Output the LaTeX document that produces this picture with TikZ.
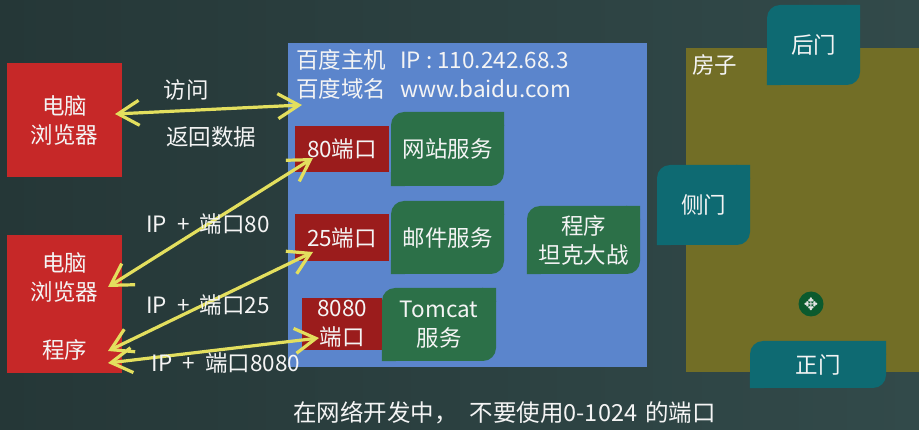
\documentclass[tikz,border=0pt]{standalone}
\usepackage{fontspec}
\setmainfont{Noto Sans CJK SC}
\newfontfamily\symbfont{DejaVu Sans}
\usetikzlibrary{arrows.meta}

\definecolor{bgdark}{HTML}{253737}
\definecolor{bglight}{HTML}{324A4A}
\definecolor{pcred}{HTML}{C62828}
\definecolor{hostblue}{HTML}{5B85CC}
\definecolor{portred}{HTML}{9B1C1C}
\definecolor{svcgreen}{HTML}{2C7048}
\definecolor{houseolive}{HTML}{726E26}
\definecolor{doorteal}{HTML}{0E6A72}
\definecolor{knobgreen}{HTML}{0B5A2E}
\definecolor{linkyellow}{HTML}{E3DF5E}
\definecolor{txtwhite}{HTML}{F4F4F4}

\tikzset{
	txt/.style={text=txtwhite, font=\fontsize{22.5}{29}\selectfont, inner sep=0pt, align=center},
	pcbox/.style={txt, fill=pcred, minimum width=115pt},
	portbox/.style={txt, fill=portred, minimum width=94pt},
	svcbox/.style={txt, fill=svcgreen, rounded corners=13pt, minimum width=113pt},
	doorbox/.style={txt, fill=doorteal, rounded corners=13pt, minimum width=93pt, minimum height=80pt},
	link/.style={draw=linkyellow, line width=3.2pt, {Straight Barb[length=21pt,width=25pt]}-{Straight Barb[length=21pt,width=25pt]}}
}

\begin{document}
\begin{tikzpicture}[x=1pt,y=-1pt]

		% Background
		\fill[left color=bgdark, right color=bglight] (0,0) rectangle (919,430);
		\useasboundingbox (0,0) rectangle (919,430);

		% Computers
		\node[pcbox, minimum height=114pt] (pc1) at (64.5,120) {电脑\\浏览器};
		\node[pcbox, minimum height=138pt] (pc2) at (64.5,304) {};
		\node[txt] (pc2name) at (64.5,277) {电脑\\浏览器};
		\node[txt] (pc2prog) at (64.5,350) {程序};

		% Baidu host
		\node[fill=hostblue, minimum width=359pt, minimum height=324pt] (host) at (467.5,205) {};
		\node[txt, align=left, anchor=west] (hostinfo) at (296,74)
			{百度主机\hspace{14pt}IP : 110.242.68.3\\百度域名\hspace{14pt}www.baidu.com};

		% Ports and services
		\node[portbox, minimum height=46pt] (port80) at (342,149) {80端口};
		\node[svcbox, minimum height=74pt] (web) at (447.5,149) {网站服务};
		\node[portbox, minimum height=47pt] (port25) at (342,237.5) {25端口};
		\node[svcbox, minimum height=73pt] (mail) at (447.5,237.5) {邮件服务};
		\node[portbox, minimum width=80pt, minimum height=52pt] (port8080) at (342,324) {8080\\端口};
		\node[svcbox, minimum width=114pt, minimum height=73pt] (tomcat) at (439,324.5) {Tomcat\\服务};
		\node[svcbox, minimum height=68pt] (tank) at (583.5,240) {程序\\坦克大战};

		% House and doors
		\node[fill=houseolive, minimum width=233pt, minimum height=324pt] (house) at (802.5,210) {};
		\node[txt, anchor=west] (houselabel) at (692,65) {房子};
		\node[doorbox] (backdoor) at (813.5,45) {后门};
		\node[doorbox] (sidedoor) at (703.5,205) {侧门};
		\node[doorbox, minimum width=136pt, minimum height=47pt] (frontdoor) at (818,364.5) {正门};
		\node[circle, fill=knobgreen, minimum size=25pt, inner sep=0pt, text=white!80!gray,
			font=\symbfont\fontsize{17}{17}\selectfont] (knob) at (811,304) {✥};

		% Sharp corners of the service and door boxes
		\fill[svcgreen] (web.north east) rectangle ++(-14,14) (web.south west) rectangle ++(14,-14);
		\fill[svcgreen] (mail.north east) rectangle ++(-14,14) (mail.south west) rectangle ++(14,-14);
		\fill[svcgreen] (tomcat.north east) rectangle ++(-14,14) (tomcat.south west) rectangle ++(14,-14);
		\fill[svcgreen] (tank.north east) rectangle ++(-14,14) (tank.south west) rectangle ++(14,-14);
		\fill[doorteal] (backdoor.north east) rectangle ++(-14,14) (backdoor.south west) rectangle ++(14,-14);
		\fill[doorteal] (sidedoor.north east) rectangle ++(-14,14) (sidedoor.south west) rectangle ++(14,-14);
		\fill[doorteal] (frontdoor.north east) rectangle ++(-14,14) (frontdoor.south west) rectangle ++(14,-14);

		% Arrow ends
		\coordinate (pc1end) at (115,114);
		\coordinate (hostend) at (302,105);
		\coordinate (pc2end80) at (108,287);
		\coordinate (port80end) at (313,158);
		\coordinate (pc2end25) at (108,351);
		\coordinate (port25end) at (313,252);
		\coordinate (pc2end8080) at (108,363);
		\coordinate (port8080end) at (319,338);

		% Links
		\draw[link] (pc1end) -- (hostend);
		\draw[link] (pc2end80) -- (port80end);
		\draw[link] (pc2end25) -- (port25end);
		\draw[link] (pc2end8080) -- (port8080end);

		% Link labels
		\node[txt] (visit) at (186,90) {访问};
		\node[txt] (reply) at (211,137) {返回数据};
		\node[txt] (lab80) at (208,224) {IP\hspace{10pt}+\hspace{10pt}端口80};
		\node[txt] (lab25) at (208,305) {IP\hspace{10pt}+\hspace{10pt}端口25};
		\node[txt] (lab8080) at (226,363) {IP\hspace{10pt}+\hspace{10pt}端口8080};

		% Note
		\node[txt, font=\fontsize{23.5}{28}\selectfont] (note) at (504.5,413)
			{在网络开发中，\hspace{12pt}不要使用0-1024\hspace{8pt}的端口};

	\end{tikzpicture}
\end{document}
